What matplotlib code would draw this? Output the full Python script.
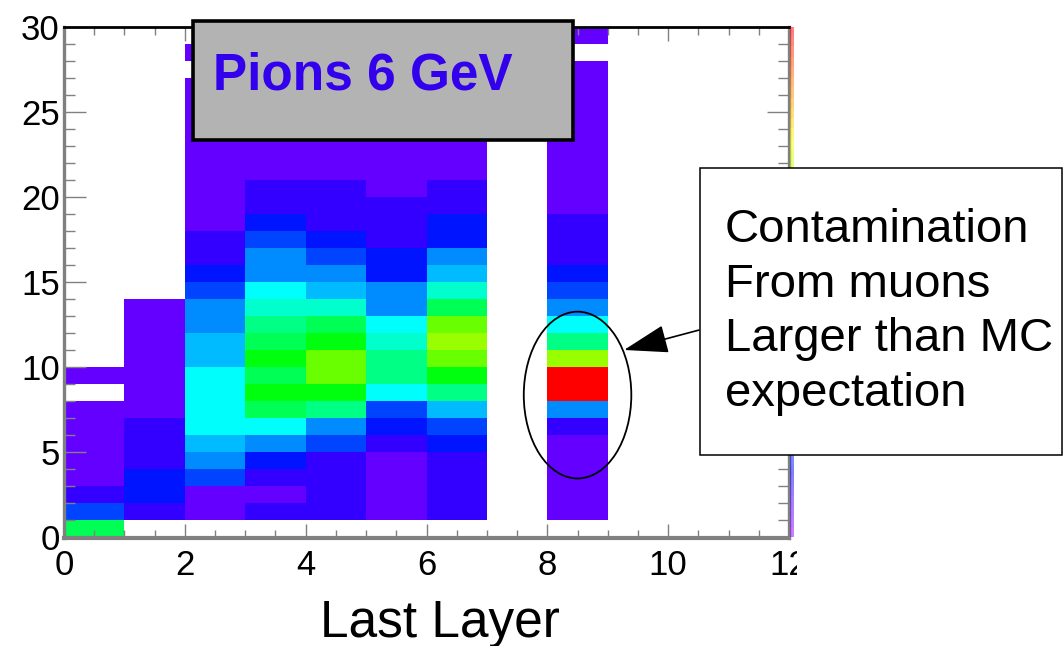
import colorsys
import numpy as np
import matplotlib
matplotlib.use("Agg")
import matplotlib.pyplot as plt
from matplotlib.colors import ListedColormap, BoundaryNorm
from matplotlib.patches import Rectangle, Ellipse
from matplotlib.ticker import MultipleLocator
from matplotlib.transforms import Bbox, TransformedBbox

plt.rcParams['font.family'] = ['Liberation Sans', 'DejaVu Sans']

# bin contents per "last layer" column, rows are y bins 0..29 (bottom to top)
layer0 = [24, 9, 4, 2, 2, 2, 2, 2, 0, 2] + [0] * 20
layer1 = [0, 4, 7, 7, 4, 4, 4, 2, 2, 2, 2, 2, 2, 2] + [0] * 16
layer2 = [0, 2, 2, 9, 12, 14, 17, 17, 17, 17, 14, 14, 12, 12, 9, 7, 4, 4,
          2, 2, 2, 2, 2, 2, 2, 2, 2, 0, 2, 0]
layer3 = [0, 4, 2, 4, 7, 12, 17, 24, 27, 24, 27, 24, 22, 19, 17, 12, 12, 9,
          7, 4, 4, 2, 2, 2, 2, 2, 2, 0, 0, 0]
layer4 = [0, 4, 4, 4, 4, 9, 12, 22, 27, 32, 32, 27, 24, 19, 14, 12, 9, 7,
          4, 4, 4, 2, 2, 2, 2, 2, 2, 0, 0, 0]
layer5 = [0, 2, 2, 2, 2, 4, 7, 9, 17, 22, 22, 19, 17, 12, 12, 7, 7, 4,
          4, 4, 2, 2, 2, 2, 2, 2, 2, 0, 0, 0]
layer6 = [0, 4, 4, 4, 4, 7, 9, 14, 22, 27, 32, 34, 32, 24, 19, 14, 12, 7,
          7, 4, 4, 2, 2, 2, 2, 2, 2, 0, 0, 0]
layer7 = [0] * 30
layer8 = [0, 2, 2, 2, 2, 2, 4, 12, 50, 50, 34, 22, 17, 12, 9, 7, 4, 4,
          4, 2, 2, 2, 2, 2, 2, 2, 2, 2, 0, 2]
layer9 = [0] * 30
layer10 = [0] * 30
layer11 = [0] * 30

x_edges = np.arange(0, 13)
y_edges = np.arange(0, 31)
z_max = 50

# ROOT "pretty" palette: 50 colours, hue 280 -> 0
n_col = 50
hues = [280 - (i + 1) * 280.0 / n_col for i in range(n_col)]
palette = ListedColormap([colorsys.hls_to_rgb(h / 360.0, 0.5, 1.0) for h in hues])
norm = BoundaryNorm(np.arange(0, z_max + 1), n_col)

counts = np.array([layer0, layer1, layer2, layer3, layer4, layer5, layer6,
                   layer7, layer8, layer9, layer10, layer11], dtype=float).T
counts = np.ma.masked_equal(counts, 0)

W, H = 1064, 646
fig = plt.figure(figsize=(W / 100, H / 100), dpi=100)
fig.patch.set_facecolor('white')

def fx(px):
    return px / W

def fy(py):
    return (H - py) / H

ax_l, ax_r, ax_t, ax_b = 64, 789, 27, 537.5
ax = fig.add_axes([fx(ax_l), fy(ax_b), fx(ax_r - ax_l), (ax_b - ax_t) / H])
ax.pcolormesh(x_edges, y_edges, counts, cmap=palette, norm=norm,
              shading='flat', antialiased=False, zorder=1)
ax.set_xlim(0, 12)
ax.set_ylim(0, 30)

ax.xaxis.set_major_locator(MultipleLocator(2))
ax.xaxis.set_minor_locator(MultipleLocator(0.5))
ax.yaxis.set_major_locator(MultipleLocator(5))
ax.yaxis.set_minor_locator(MultipleLocator(1))

ax.tick_params(which='both', direction='in', top=True, right=True,
               color='#808080', width=1.0, labelsize=25, labelcolor='black')
ax.tick_params(axis='x', which='major', length=10, pad=8)
ax.tick_params(axis='x', which='minor', length=5.5)
ax.tick_params(axis='y', which='major', length=16, pad=3)
ax.tick_params(axis='y', which='minor', length=8)

for side in ('left', 'bottom', 'right'):
    ax.spines[side].set_color('#808080')
    ax.spines[side].set_linewidth(2.4)
ax.spines['bottom'].set_linewidth(3.0)
ax.spines['top'].set_color('black')
ax.spines['top'].set_linewidth(2.0)

# the "12" label is cut by the pad edge
clip = TransformedBbox(Bbox([[0, 0], [fx(797), 1]]), fig.transFigure)
for lab in ax.get_xticklabels():
    lab.set_clip_box(clip)
    lab.set_clip_on(True)

# highlighted region around layer 8
ax.add_patch(Ellipse((8.5, 8.37), 1.78, 9.8, fill=False, edgecolor='black',
                     linewidth=1.3, zorder=4))
ax.annotate('', xy=(9.27, 11.02), xytext=(10.51, 12.19),
            arrowprops=dict(arrowstyle='-|>,head_length=1.4,head_width=0.45',
                            mutation_scale=20, color='black', lw=1.2,
                            shrinkA=0, shrinkB=0),
            zorder=6, annotation_clip=False)

# squeezed z palette at the right edge of the frame
pal_ax = fig.add_axes([fx(790), fy(ax_b), fx(4), (ax_b - ax_t) / H])
grad = np.linspace(0, z_max, 200).reshape(-1, 1)
pal_ax.imshow(grad, cmap=palette, norm=norm, aspect='auto', origin='lower',
              alpha=0.5, interpolation='nearest')
pal_ax.set_axis_off()

fig.text(fx(440), fy(637), 'Last Layer', ha='center', va='baseline',
         fontsize=37, color='black')

# title box
fig.add_artist(Rectangle((fx(193), fy(140)), fx(380), 119 / H,
                         transform=fig.transFigure, facecolor='#b3b3b3',
                         edgecolor='black', linewidth=2.6, zorder=10))
fig.text(fx(213), fy(89), 'Pions 6 GeV', ha='left', va='baseline',
         fontsize=37, fontweight='bold', color='#3300ee', zorder=11)

# comment box
fig.add_artist(Rectangle((fx(700), fy(455)), fx(362), 287 / H,
                         transform=fig.transFigure, facecolor='white',
                         edgecolor='black', linewidth=1.1, zorder=10))
fig.text(fx(725), fy(208),
         'Contamination\nFrom muons\nLarger than MC\nexpectation',
         ha='left', va='top', fontsize=34, linespacing=1.31,
         color='black', zorder=11)

fig.savefig('out.png', dpi=100)
